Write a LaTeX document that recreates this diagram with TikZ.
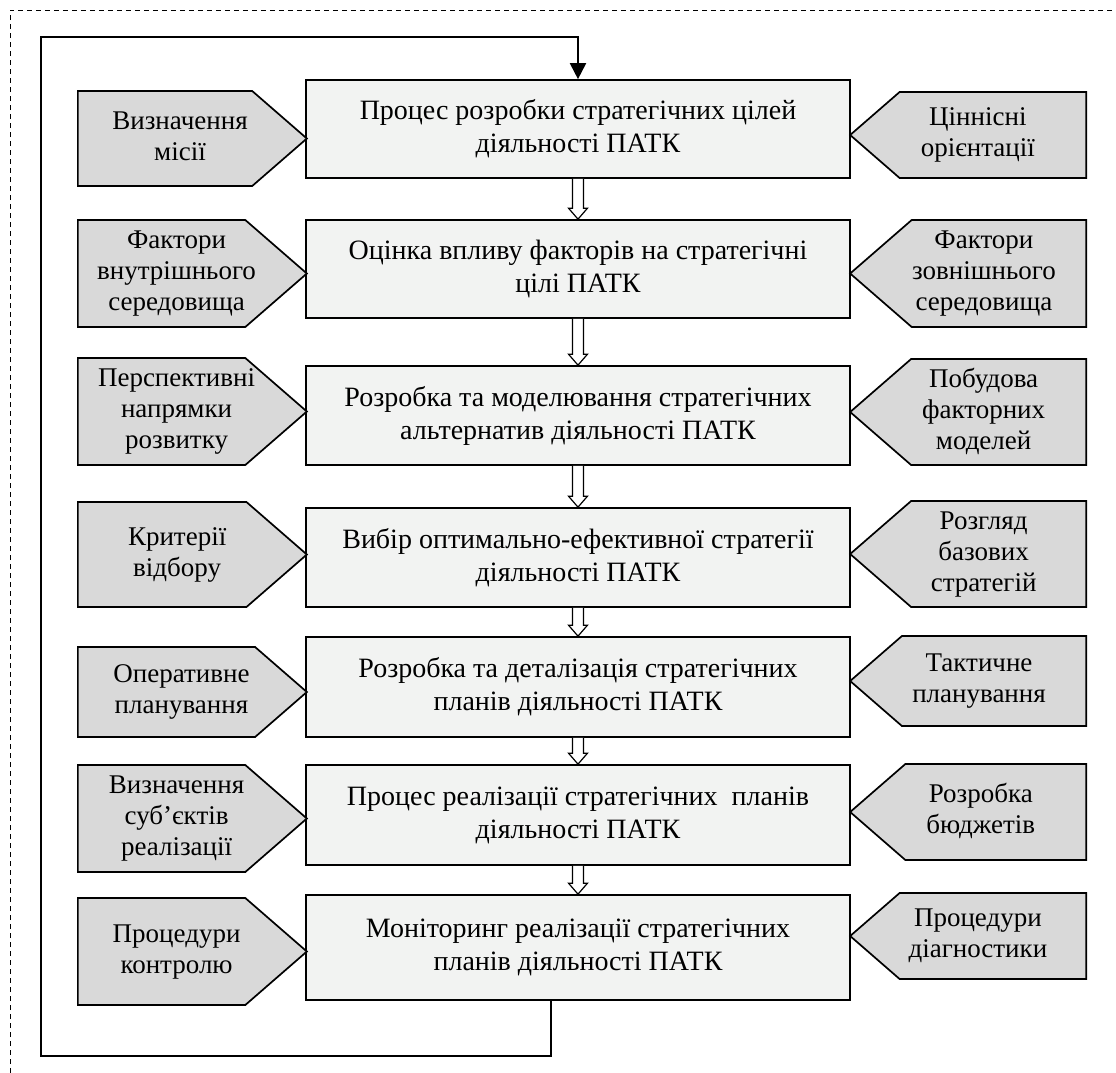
\documentclass[tikz,border=0pt]{standalone}
\usepackage{fontspec}
\setmainfont{Liberation Serif}
\usepackage{tikz}
\usetikzlibrary{shapes,shapes.symbols,arrows,arrows.meta,calc}
\definecolor{stagefill}{HTML}{F2F3F2}
\definecolor{sidefill}{HTML}{D9D9D9}

\newcommand{\hollowarrow}[2]{%
\draw[line width=0.6pt, fill=white] let \p1=(#1.south), \p2=(#2.north) in
  (\x1-2.75pt,\y1) -- (\x1-2.75pt,\y2+5.5pt) -- (\x1-4.75pt,\y2+5.5pt) -- (\x1,\y2)
  -- (\x1+4.75pt,\y2+5.5pt) -- (\x1+2.75pt,\y2+5.5pt) -- (\x1+2.75pt,\y1);}
\newcommand{\ltext}[1]{\hspace*{15pt}\makebox[40pt]{\begin{tabular}{@{}c@{}}#1\end{tabular}}}
\newcommand{\rtext}[1]{\makebox[40pt]{\begin{tabular}{@{}c@{}}#1\end{tabular}}\hspace*{15pt}}

\begin{document}
\begin{tikzpicture}[x=0.5pt, y=-0.5pt,
stagebox/.style={font=\fontsize{14}{16.5}\selectfont, draw, fill=stagefill, line width=0.85pt, minimum width=272pt, inner sep=2pt, align=center},
sidebox/.style={font=\fontsize{13.5}{15.5}\selectfont, draw, fill=sidefill, line width=0.85pt, signal, signal pointer angle=82, inner sep=1pt},
leftbox/.style={sidebox, signal to=east, minimum width=114.5pt, anchor=west},
rightbox/.style={sidebox, signal to=west, minimum width=118pt, anchor=east}]
\useasboundingbox (0,0) rectangle (1116,1073);
\draw[line width=0.5pt, dash pattern=on 2.5pt off 2pt] (10,1073) -- (10,10) -- (1116,10);
%stages
\node[stagebox, minimum height=49pt] (b1) at (578,129) {Процес розробки стратегічних цілей\\діяльності ПАТК};
\node[stagebox, minimum height=49pt] (b2) at (578,269) {Оцінка впливу факторів на стратегічні\\цілі ПАТК};
\node[stagebox, minimum height=49.5pt] (b3) at (578,415.5) {Розробка та моделювання стратегічних\\альтернатив діяльності ПАТК};
\node[stagebox, minimum height=49.5pt] (b4) at (578,557.5) {Вибір оптимально-ефективної стратегії\\діяльності ПАТК};
\node[stagebox, minimum height=50pt] (b5) at (578,687) {Розробка та деталізація стратегічних\\планів діяльності ПАТК};
\node[stagebox, minimum height=50pt] (b6) at (578,815) {Процес реалізації стратегічних~ планів\\діяльності ПАТК};
\node[stagebox, minimum height=52.5pt] (b7) at (578,947.5) {Моніторинг реалізації стратегічних\\планів діяльності ПАТК};
%left side
\node[leftbox, minimum height=47.5pt] (l1) at (77,138.5) {\ltext{Визначення\\місії}};
\node[leftbox, minimum height=53.5pt] (l2) at (77,273.5) {\ltext{Фактори\\внутрішнього\\середовища}};
\node[leftbox, minimum height=53.5pt] (l3) at (77,411.5) {\ltext{Перспективні\\напрямки\\розвитку}};
\node[leftbox, minimum height=52.5pt] (l4) at (77,554.5) {\ltext{Критерії\\відбору}};
\node[leftbox, minimum height=45pt] (l5) at (77,692) {\ltext{Оперативне\\планування}};
\node[leftbox, minimum height=53.5pt] (l6) at (77,818.5) {\ltext{Визначення\\суб’єктів\\реалізації}};
\node[leftbox, minimum height=53.5pt] (l7) at (77,951.5) {\ltext{Процедури\\контролю}};
%right side
\node[rightbox, minimum height=43pt] (r1) at (1087,135) {\rtext{Ціннісні\\орієнтації}};
\node[rightbox, minimum height=53.5pt] (r2) at (1087,273.5) {\rtext{Фактори\\зовнішнього\\середовища}};
\node[rightbox, minimum height=53pt] (r3) at (1087,412) {\rtext{Побудова\\факторних\\моделей}};
\node[rightbox, minimum height=53pt] (r4) at (1087,554) {\rtext{Розгляд\\базових\\стратегій}};
\node[rightbox, minimum height=45pt] (r5) at (1087,681) {\rtext{Тактичне\\планування}};
\node[rightbox, minimum height=48pt] (r6) at (1087,812) {\rtext{Розробка\\бюджетів}};
\node[rightbox, minimum height=43pt] (r7) at (1087,936) {\rtext{Процедури\\діагностики}};
%feedback loop
\coordinate (lb) at (41,1056);
\coordinate (lt) at (41,37);
\draw[line width=1pt, -{Triangle[length=8pt,width=8pt]}] ([xshift=-13.5pt]b7.south) |- (lb) -- (lt) -| (b1.north);
\hollowarrow{b1}{b2}
\hollowarrow{b2}{b3}
\hollowarrow{b3}{b4}
\hollowarrow{b4}{b5}
\hollowarrow{b5}{b6}
\hollowarrow{b6}{b7}
\end{tikzpicture}
\end{document}
